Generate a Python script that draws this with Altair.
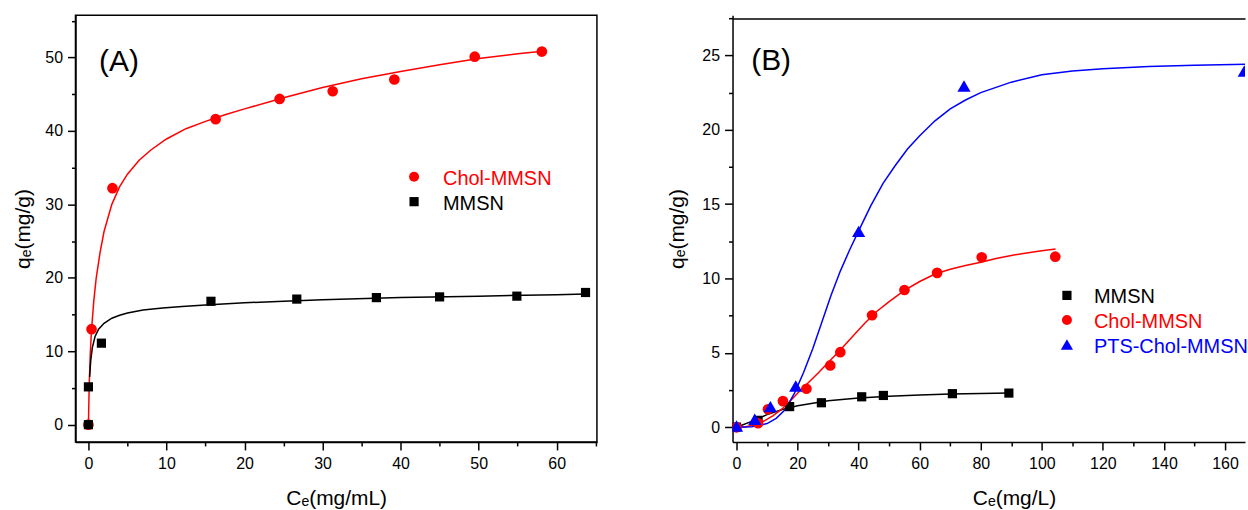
import altair as alt
import pandas as pd

FONT = "Liberation Sans"
RED, BLACK, BLUE = "#FF0000", "#000000", "#0000FF"

# ---------------- Panel (A) data ----------------
a_names = ["Chol-MMSN", "MMSN"]
a_colors = [RED, BLACK]
a_shapes = ["circle", "square"]
a_sizes = [115, 85]
a_leg_sizes = [100, 85]

a_chol_x = [0, 0.4, 3.08, 16.3, 24.5, 31.3, 39.2, 49.5, 58.1]
a_chol_y = [0, 13.0, 32.2, 41.6, 44.35, 45.4, 47.0, 50.1, 50.8]
a_mmsn_x = [0, 0, 1.66, 15.7, 26.7, 36.9, 45.0, 54.9, 63.7]
a_mmsn_y = [0, 5.15, 11.1, 16.8, 17.1, 17.3, 17.4, 17.5, 18.0]

a_chol_fit_x = [0, 0.1, 0.25, 0.4, 0.7, 1.0, 1.5, 2, 3, 4, 5, 6.5, 8, 10, 12.5,
                15, 17.5, 20, 25, 30, 35, 40, 45, 50, 55, 58.2]
a_chol_fit_y = [0, 5.5, 10, 13, 17, 20, 23.5, 26.3, 30, 32.4, 34.1, 36.0, 37.4,
                38.9, 40.3, 41.3, 42.2, 43.0, 44.5, 45.9, 47.1, 48.1, 49.0, 49.85,
                50.5, 50.85]
a_mmsn_fit_x = [0.15, 0.3, 0.5, 0.85, 1.3, 2, 3, 4, 5, 7, 9.5, 12, 15, 20, 25,
                30, 40, 50, 60, 63.7]
a_mmsn_fit_y = [6.5, 8.8, 10.5, 12.0, 13.0, 13.8, 14.5, 14.9, 15.2, 15.6, 15.9,
                16.1, 16.3, 16.6, 16.8, 17.0, 17.3, 17.5, 17.7, 17.8]

a_x_major = [0, 10, 20, 30, 40, 50, 60]
a_x_minor = [5, 15, 25, 35, 45, 55, 65]
a_y_major = [0, 10, 20, 30, 40, 50]
a_y_minor = [5, 15, 25, 35, 45, 55]

# ---------------- Panel (B) data ----------------
b_names = ["MMSN", "Chol-MMSN", "PTS-Chol-MMSN"]
b_colors = [BLACK, RED, BLUE]
b_shapes = ["square", "circle", "triangle-up"]
b_sizes = [85, 115, 175]
b_leg_sizes = [85, 100, 150]

b_mmsn_x = [0, 7.06, 17.4, 27.8, 41.0, 48.1, 70.7, 89.2]
b_mmsn_y = [0.02, 0.47, 1.39, 1.65, 2.05, 2.14, 2.26, 2.30]
b_chol_x = [0, 7.06, 10.3, 15.2, 22.9, 30.7, 34.0, 44.4, 55.0, 65.7, 80.3, 104.4]
b_chol_y = [0, 0.27, 1.21, 1.76, 2.59, 4.16, 5.05, 7.53, 9.23, 10.38, 11.43, 11.47]
b_pts_x = [0, 5.98, 11.1, 19.4, 40.0, 74.5, 166.3]
b_pts_y = [0.09, 0.54, 1.39, 2.77, 13.17, 22.94, 23.95]

b_mmsn_fit_x = [0, 5, 10, 15, 20, 25, 30, 40, 50, 60, 70, 80, 89.2]
b_mmsn_fit_y = [0, 0.4, 0.85, 1.2, 1.45, 1.62, 1.78, 1.97, 2.09, 2.17, 2.23, 2.27, 2.30]
b_chol_fit_x = [0, 3, 6, 9, 12, 15, 18, 21, 24, 27, 30, 34, 38, 42, 46, 50, 55,
                60, 65, 70, 75, 80, 85, 90, 95, 100, 104.5]
b_chol_fit_y = [0, 0.04, 0.17, 0.42, 0.78, 1.25, 1.85, 2.5, 3.1, 3.7, 4.35, 5.2,
                6.1, 7.0, 7.8, 8.45, 9.2, 9.8, 10.3, 10.62, 10.87, 11.09, 11.35,
                11.55, 11.72, 11.86, 11.98]
b_pts_fit_x = [0, 5, 10, 13, 16, 19, 22, 25, 28, 31, 34, 37, 40, 44, 48, 52, 56,
               60, 65, 70, 75, 80, 90, 100, 110, 120, 135, 150, 167]
b_pts_fit_y = [0, 0.03, 0.25, 0.6, 1.2, 2.3, 3.7, 5.3, 7.1, 8.9, 10.5, 11.9, 13.2,
               14.9, 16.4, 17.6, 18.7, 19.6, 20.6, 21.4, 22.0, 22.5, 23.2, 23.7,
               23.95, 24.1, 24.25, 24.33, 24.4]

b_x_major = [0, 20, 40, 60, 80, 100, 120, 140, 160]
b_x_minor = [10, 30, 50, 70, 90, 110, 130, 150]
b_y_major = [0, 5, 10, 15, 20, 25]
b_y_minor = [2.5, 7.5, 12.5, 17.5, 22.5, 27.5]


def table(names, xs_list, ys_list):
    rows = []
    for n, xs, ys in zip(names, xs_list, ys_list):
        for x, y in zip(xs, ys):
            rows.append({"x": x, "y": y, "series": n})
    return pd.DataFrame(rows)


def major_axis(values, title, orient, **kw):
    return alt.Axis(values=values, title=title, orient=orient, tickSize=8,
                    tickWidth=1.5, tickColor="black", domainColor="black",
                    domainWidth=1.5, labelFont=FONT, labelFontSize=16,
                    labelColor="black", labelFlush=False, labelOverlap=False,
                    titleFont=FONT, titleFontSize=21, titleFontWeight="normal",
                    titleColor="black", titleAlign="center",
                    titleBaseline="alphabetic", grid=False, **kw)


def minor_axis(values, orient):
    return alt.Axis(values=values, orient=orient, tickSize=4, tickWidth=1.5,
                    tickColor="black", domain=False, labels=False, title=None,
                    grid=False)


def panel(names, colors, shapes, sizes, leg_sizes, pts, fits, xdom, ydom, w, h,
          xmaj, xmin, ymaj, ymin, xtitle, ytitle, xtitle_x, ytitle_x,
          tag, tag_x, tag_y, leg_sym_x, leg_txt_x, leg_y0, leg_y1, clip,
          top_frame_offset):
    xs = alt.Scale(domain=xdom, nice=False, zero=False)
    ys = alt.Scale(domain=ydom, nice=False, zero=False)
    cscale = alt.Scale(domain=names, range=colors)
    color = alt.Color("series:N", scale=cscale, legend=None)
    shape = alt.Shape("series:N", scale=alt.Scale(domain=names, range=shapes),
                      legend=None)
    if top_frame_offset is not None:
        line_xaxis = alt.Axis(orient="top", domain=True, domainColor="black",
                              domainWidth=1.5, ticks=False, labels=False,
                              title=None, grid=False, offset=top_frame_offset)
    else:
        line_xaxis = None
    lines = alt.Chart(fits).mark_line(strokeWidth=1.5, clip=clip).encode(
        x=alt.X("x:Q", scale=xs, axis=line_xaxis),
        y=alt.Y("y:Q", scale=ys, axis=None),
        stroke=alt.Stroke("series:N", scale=cscale, legend=None),
    )
    points = alt.Chart(pts).mark_point(filled=True, opacity=1, clip=clip).encode(
        x=alt.X("x:Q", scale=xs,
                axis=major_axis(xmaj, xtitle, "bottom", labelPadding=6,
                                titleX=xtitle_x, titleY=63)),
        y=alt.Y("y:Q", scale=ys,
                axis=major_axis(ymaj, ytitle, "left", labelPadding=5,
                                titleAngle=270, titleX=ytitle_x, titleY=h / 2)),
        color=color, shape=shape,
        size=alt.Size("series:N", legend=None,
                      scale=alt.Scale(type="ordinal", domain=names, range=sizes)),
    )
    minor = alt.Chart(pts).mark_point(opacity=0).encode(
        x=alt.X("x:Q", scale=xs, axis=minor_axis(xmin, "bottom")),
        y=alt.Y("y:Q", scale=ys, axis=minor_axis(ymin, "left")),
    )
    # legend (symbols + coloured labels), rows placed by a point scale
    leg_df = pd.DataFrame({"series": names})
    leg_y = alt.Y("series:N", axis=None,
                  scale=alt.Scale(domain=names, range=[leg_y0, leg_y1], padding=0))
    leg_sym = alt.Chart(leg_df).mark_point(filled=True, opacity=1).encode(
        x=alt.value(leg_sym_x), y=leg_y, color=color, shape=shape,
        size=alt.Size("series:N", legend=None,
                      scale=alt.Scale(type="ordinal", domain=names,
                                      range=leg_sizes)),
    )
    leg_txt = alt.Chart(leg_df).mark_text(
        font=FONT, fontSize=20, align="left", baseline="middle", dy=2
    ).encode(x=alt.value(leg_txt_x), y=leg_y, text="series:N", color=color)
    label = alt.Chart(pd.DataFrame({"t": [tag]})).mark_text(
        font=FONT, fontSize=30, align="left", baseline="alphabetic", color="black"
    ).encode(text="t:N", x=alt.value(tag_x), y=alt.value(tag_y))
    return alt.layer(lines, points, minor, leg_sym, leg_txt, label).resolve_axis(
        x="independent", y="independent").resolve_scale(
        y="independent", size="independent").properties(width=w, height=h)


pts_a = table(a_names, [a_chol_x, a_mmsn_x], [a_chol_y, a_mmsn_y])
fit_a = table(a_names, [a_chol_fit_x, a_mmsn_fit_x], [a_chol_fit_y, a_mmsn_fit_y])
pts_b = table(b_names, [b_mmsn_x, b_chol_x, b_pts_x], [b_mmsn_y, b_chol_y, b_pts_y])
fit_b = table(b_names, [b_mmsn_fit_x, b_chol_fit_x, b_pts_fit_x],
              [b_mmsn_fit_y, b_chol_fit_y, b_pts_fit_y])

H = 428
WA = 523
WB = 514

chart_a = panel(a_names, a_colors, a_shapes, a_sizes, a_leg_sizes, pts_a, fit_a,
                [-1.66, 65.16], [-2.35, 55.75], WA, H,
                a_x_major, a_x_minor, a_y_major, a_y_minor,
                "Cₑ(mg/mL)", "qₑ(mg/g)", WA / 2, -46.5,
                "(A)", 23.7, 56.3, 339.6, 368.6, 162, 187, False, None)

chart_b = panel(b_names, b_colors, b_shapes, b_sizes, b_leg_sizes, pts_b, fit_b,
                [-1.3, -1.3 + WB / 3.0625], [-0.985, 27.70], WB, H,
                b_x_major, b_x_minor, b_y_major, b_y_minor,
                "Cₑ(mg/L)", "qₑ(mg/g)", 282.3, -49,
                "(B)", 18.7, 55, 335.4, 362.5, 281, 330.3, True, -3.3).properties(
    view=alt.ViewBackground(strokeWidth=0, strokeOpacity=0))

chart = alt.hconcat(chart_a, chart_b, spacing=136, bounds="flush").resolve_scale(
    x="independent", y="independent", color="independent", shape="independent",
    size="independent", stroke="independent"
).configure_view(
    stroke="black", strokeWidth=1.5
).properties(padding={"left": 10.7, "top": 13.5, "right": 0, "bottom": 0})

chart.save("out.html", embed_options={"renderer": "svg", "actions": False})
